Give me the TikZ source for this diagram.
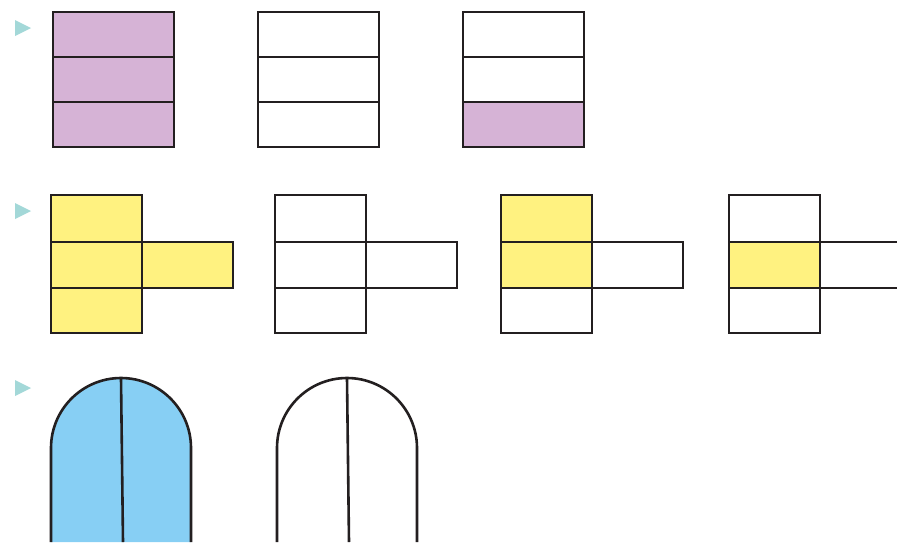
\documentclass[tikz,border=0pt]{standalone}
\usepackage{tikz}
\usetikzlibrary{positioning}

\definecolor{lilac}{HTML}{D6B3D6}
\definecolor{lemon}{HTML}{FFF280}
\definecolor{sky}{HTML}{87CFF4}
\definecolor{marker}{HTML}{A3D8D8}
\definecolor{ink}{HTML}{231F20}

\begin{document}
\begin{tikzpicture}[
  x=1pt, y=-1pt,
  line cap=butt,
  line join=miter,
  part/.style={draw=ink, line width=2.6pt}
]
  \clip (0,0) rectangle (897,542);
  \fill[white] (0,0) rectangle (897,542);

  % Row markers
  \foreach \y in {28, 211, 388} {
    \fill[marker] (15,\y-8) -- (31,\y) -- (15,\y+8) -- cycle;
  }

  % Thirds: all shaded, none shaded, one shaded
  \fill[lilac] (53,12) rectangle (174,147);
  \fill[lilac] (463,102) rectangle (584,147);
  \foreach \x in {53, 258, 463} {
    \draw[part] (\x,12) rectangle (\x+121,147);
    \draw[part] (\x,57) -- (\x+121,57);
    \draw[part] (\x,102) -- (\x+121,102);
  }

  % Quarters (T shapes)
  \fill[lemon] (51,195) rectangle (141,333);
  \fill[lemon] (141,242) rectangle (232,288);
  \fill[lemon] (501,195) rectangle (592,288);
  \fill[lemon] (729,242) rectangle (820,288);
  \foreach \x in {51, 275, 501, 729} {
    \draw[part] (\x,195) rectangle (\x+91,333);
    \draw[part] (\x,242) -- (\x+182,242) -- (\x+182,288) -- (\x,288);
  }

  % Halves (arches)
  \fill[sky] (51,542) -- (51,448) arc[start angle=180, end angle=360, radius=70]
    -- (191,542) -- cycle;
  \foreach \x in {51, 277} {
    \draw[part] (\x,542) -- (\x,448)
      arc[start angle=180, end angle=360, radius=70] -- (\x+140,542);
    \draw[part] (\x+70,378) -- (\x+72,542);
  }
\end{tikzpicture}
\end{document}
